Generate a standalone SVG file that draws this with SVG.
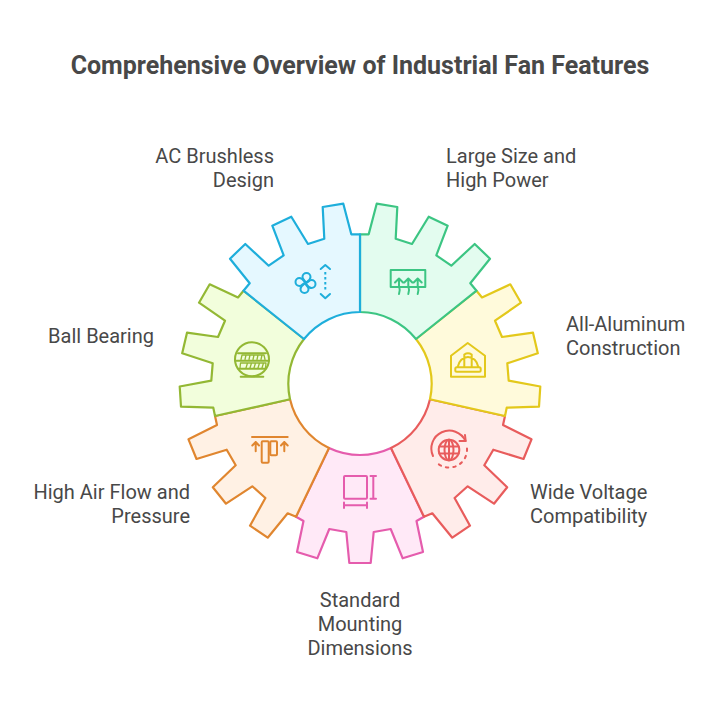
<svg xmlns="http://www.w3.org/2000/svg" width="720" height="708" viewBox="0 0 720 708">
<style>
.t{font-family:Roboto,"Liberation Sans",sans-serif;font-size:20px;fill:#484848}
.h{font-family:Roboto,"Liberation Sans",sans-serif;font-size:25px;font-weight:700;fill:#484848;text-anchor:middle}
.e{text-anchor:end}.m{text-anchor:middle}
.g{stroke-width:2.2;stroke-linejoin:round;stroke-linecap:round}
.i{fill:none;stroke-width:2;stroke-linejoin:round;stroke-linecap:round}
.blue{stroke:#1EAEDB}.green{stroke:#3CC583}.yellow{stroke:#E3C81B}.red{stroke:#E85C5C}.pink{stroke:#E55CAD}.orange{stroke:#E0862F}.lime{stroke:#93B834}
</style>
<defs><path id="petal" d="M0 0C0 -3 -3 -3 -3 -6A4 4 0 0 1 5 -6C5 -3 2.500 -2 0 0"/></defs>
<rect width="720" height="708" fill="#fff"/>
<text class="h" x="360" y="74">Comprehensive Overview of Industrial Fan Features</text>

<g id="node-standard-mounting">
<path class="g pink" fill="#FFE9F7" d="M329 448L296 516.700L303.500 521L297 552L317.300 558.300L329.300 529L346.300 532L349.300 563L370.700 563L373.700 532L390.700 529L402.700 558.300L423 552L416.500 521L424 516.700L391 448A72 72 0 0 1 329 448Z"/>
<g class="i pink"><rect x="344" y="476" width="23" height="22.700" rx="1"/><path d="M373.300 476V498.700M370.500 476H376M370.500 498.700H376M344 505.300H367M344 502.500V508M367 502.500V508"/></g>
<text class="t m"><tspan x="360" y="606.500">Standard</tspan><tspan x="360" y="630.500">Mounting</tspan><tspan x="360" y="654.500">Dimensions</tspan></text>
</g>

<g id="node-wide-voltage">
<path class="g red" fill="#FFECEA" d="M430 399.300L505 416L503 425L531.500 439.300L523.500 459L493.300 449.700L484.300 465.300L507.200 487.300L494 503.700L467.700 486.300L454.600 498L470 525.700L452.300 537.700L432.300 513.300L424 516.700L391 448A72 72 0 0 0 430 399.300Z"/>
<g class="i red"><circle cx="449" cy="450" r="10.300"/><ellipse cx="449" cy="450" rx="4.500" ry="10.300"/><path d="M449 439.700V460.300M439.300 446.500H458.700M439.300 453.500H458.700"/><path d="M433 456A17 17 0 0 1 465.500 441"/><path d="M465 435L465.700 441L459.500 441"/><path d="M467 448.500A18 18 0 0 1 436 462" stroke-dasharray="2.500 5"/></g>
<text class="t"><tspan x="530" y="498.500">Wide Voltage</tspan><tspan x="530" y="522.500">Compatibility</tspan></text>
</g>

<g id="node-high-air-flow">
<path class="g orange" fill="#FFF1E4" d="M290 399.300L215 416L217 425L188.500 439.300L196.500 459L226.700 449.700L235.700 465.300L212.800 487.300L226 503.700L252.300 486.300L265.400 498L250 525.700L267.700 537.700L287.700 513.300L296 516.700L329 448A72 72 0 0 1 290 399.300Z"/>
<g class="i orange"><path d="M252 437H287.700"/><rect x="261.700" y="441.300" width="7" height="21.400" rx="1"/><rect x="270.300" y="441.300" width="6.700" height="14" rx="1"/><path d="M255.700 451.300V442M252.300 445.500L255.700 442L259 445.500M284.300 451.300V442M281 445.500L284.300 442L287.700 445.500"/></g>
<text class="t e"><tspan x="190" y="498.500">High Air Flow and</tspan><tspan x="190" y="522.500">Pressure</tspan></text>
</g>

<g id="node-all-aluminum">
<path class="g yellow" fill="#FFFADB" d="M416 339L476.500 290.700L482 297.500L510.300 284.300L521 302.700L495 320.700L502 337L533 332.700L537.800 353.300L507.300 363.300L508.700 380.700L540.300 386.500L539 406.700L506.700 407.700L505 416L430 399.300A72 72 0 0 0 416 339Z"/>
<g class="i yellow"><path d="M451 355.700L467.700 343L485 355.700V376.700H451Z"/><rect x="455.300" y="367.300" width="25.400" height="4.400" rx="1.500"/><path d="M457.700 367A10.500 12.500 0 0 1 478.300 367M464.300 367V354.500Q468 352 471.700 354.500V367"/></g>
<text class="t"><tspan x="566" y="330.500">All-Aluminum</tspan><tspan x="566" y="354.500">Construction</tspan></text>
</g>

<g id="node-ball-bearing">
<path class="g lime" fill="#F2FEDC" d="M304 339L243.500 290.700L238 297.500L209.700 284.300L199 302.700L225 320.700L218 337L187 332.700L182.200 353.300L212.700 363.300L211.300 380.700L179.700 386.500L181 406.700L213.300 407.700L215 416L290 399.300A72 72 0 0 1 304 339Z"/>
<g class="i lime"><circle cx="252" cy="359.300" r="17"/><path d="M240.700 376.700H263.300M238 353.300H266M235 360.700H269M238.500 368.700H265.500"/><path d="M241 359.500L242 355H264L265 359.500M240 368L240.500 363H266L265.500 368M245 359.500L246 355M249 359.500L250 355M253 359.500L254 355M257 359.500L258 355M261 359.500L262 355M246 368L247.500 363M250 368L251.500 363M254 368L255.500 363M258 368L259.500 363M262 368L263.500 363" stroke-width="1.300"/></g>
<text class="t e"><tspan x="154" y="342.500">Ball Bearing</tspan></text>
</g>

<g id="node-large-size">
<path class="g green" fill="#E3FCEF" d="M360 312V234.300H368.700L376.700 203.700L397.300 207L395.700 238.700L412 244L428.700 216.700L447.700 225.700L436.300 255.300L451.300 265.700L474.700 244L490 258.700L470.300 283.300L476.500 290.700L416 339A72 72 0 0 0 360 312Z"/>
<g class="i green"><rect x="390.700" y="270" width="34.600" height="17"/><path d="M399 294Q400.500 290 399 286V278.500M395 282.500L399 278.500L403 282.500M408.300 294Q409.800 290 408.300 286V278.500M404.300 282.500L408.300 278.500L412.300 282.500M417.700 294Q419.200 290 417.700 286V278.500M413.700 282.500L417.700 278.500L421.700 282.500"/></g>
<text class="t"><tspan x="446" y="162.500">Large Size and</tspan><tspan x="446" y="186.500">High Power</tspan></text>
</g>

<g id="node-ac-brushless">
<path class="g blue" fill="#E5F8FF" d="M360 312V234.300H351.300L343.300 203.700L322.700 207L324.300 238.700L308 244L291.300 216.700L272.300 225.700L283.700 255.300L268.700 265.700L245.300 244L230 258.700L249.700 283.300L243.500 290.700L304 339A72 72 0 0 1 360 312Z"/>
<g class="i blue"><path d="M320.700 269L325.300 265L330 269M320.700 294L325.300 298.300L330 294"/><path d="M325.300 272V292" stroke-linecap="butt" stroke-dasharray="2.500 2.500"/><g transform="translate(305.500 283)"><use href="#petal"/><use href="#petal" transform="rotate(90)"/><use href="#petal" transform="rotate(180)"/><use href="#petal" transform="rotate(270)"/></g></g>
<text class="t e"><tspan x="274" y="162.500">AC Brushless</tspan><tspan x="274" y="186.500">Design</tspan></text>
</g>
</svg>
